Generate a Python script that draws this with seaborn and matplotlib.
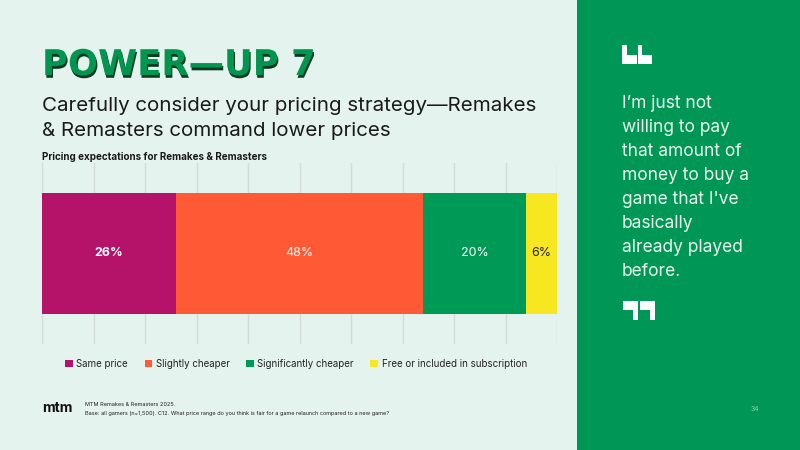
import numpy as np
import matplotlib.pyplot as plt
import matplotlib.patheffects as pe
from matplotlib.patches import Patch, Rectangle, Polygon
import seaborn as sns

# Dados do gráfico
categorias = ['Same price', 'Slightly cheaper', 'Significantly cheaper',
              'Free or included in subscription']
percentuais = [26, 48, 20, 6]
cores = ['#B5126A', '#FF5A35', '#009A57', '#F7E720']
cor_rotulo = ['white', 'white', 'white', '#222222']
peso_rotulo = ['bold', 'normal', 'normal', 'normal']
citacao = ["I\u2019m just not", "willing to pay", "that amount of",
           "money to buy a", "game that I've", "basically",
           "already played", "before."]

sns.set_theme(style='white')
plt.rcParams['font.family'] = ['Inter', 'DejaVu Sans']

W, H = 800, 450
fig = plt.figure(figsize=(8, 4.5), dpi=100)
fig.patch.set_facecolor('#E4F3EE')

def fx(px):
    return px / W

def fy(py):
    return 1 - py / H

# Painel verde da direita
fig.patches.append(Rectangle((fx(577), 0), fx(223), 1, transform=fig.transFigure,
                             facecolor='#009655', edgecolor='none', zorder=0))

# Barra empilhada (desenha do total acumulado para o menor)
ax = fig.add_axes([fx(42), fy(344), fx(557) - fx(42), fy(163) - fy(344)])
ax.set_facecolor('none')
acumulado = np.cumsum(percentuais)
for i in reversed(range(len(percentuais))):
    sns.barplot(x=[acumulado[i]], y=['Remakes & Remasters'], orient='h',
                color=cores[i], saturation=1, width=1.0, linewidth=0, ax=ax, zorder=3)

ax.set_xlim(0, 100)
ax.set_ylim(0.75, -0.75)
ax.set_xticks(np.arange(0, 101, 10))
ax.grid(axis='x', color='#D3DCD8', linewidth=1)
ax.grid(axis='y', visible=False)
ax.tick_params(left=False, bottom=False, labelleft=False, labelbottom=False)
ax.set_xlabel('')
ax.set_ylabel('')
for s in ax.spines.values():
    s.set_visible(False)

inicio = 0
for val, c, w in zip(percentuais, cor_rotulo, peso_rotulo):
    ax.text(inicio + val / 2, 0, f'{val}%', ha='center', va='center',
            color=c, fontweight=w, fontsize=9, zorder=5)
    inicio += val

# Títulos
fig.text(fx(42), fy(75), 'POWER\u2014UP 7', fontsize=25.5, fontweight='bold',
         family='DejaVu Sans', color='#00964F', va='baseline',
         path_effects=[pe.SimplePatchShadow(offset=(0.8, -2), shadow_rgbFace='#0B3A22', alpha=1),
                       pe.Normal()])
fig.text(fx(42), fy(111), 'Carefully consider your pricing strategy\u2014Remakes',
         fontsize=14.8, color='#1A1A1A', va='baseline')
fig.text(fx(42), fy(136), '& Remasters command lower prices',
         fontsize=14.8, color='#1A1A1A', va='baseline')
fig.text(fx(42), fy(160), 'Pricing expectations for Remakes & Remasters',
         fontsize=7.1, fontweight='bold', color='#1A1A1A', va='baseline')

# Legenda
alcas = [Patch(facecolor=c, edgecolor='none') for c in cores]
fig.legend(alcas, categorias, loc='center', bbox_to_anchor=(fx(296), fy(364)),
           ncol=4, frameon=False, fontsize=7, handlelength=0.8, handleheight=0.8,
           handletextpad=0.35, columnspacing=1.7, labelcolor='#222222')

# Rodapé
fig.text(fx(42), fy(412), 'mtm', fontsize=10, fontweight='bold', color='#111111',
         va='baseline')
fig.text(fx(85), fy(406), 'MTM Remakes & Remasters 2025.', fontsize=4.0,
         color='#222222', va='baseline')
fig.text(fx(85), fy(415), 'Base: all gamers (n=1,500). C12. What price range do you think '
         'is fair for a game relaunch compared to a new game?', fontsize=4.0,
         color='#222222', va='baseline')
fig.text(fx(751), fy(411), '34', fontsize=5, color='#8FD4B0', va='baseline')

# Aspas em bloco
def bloco(pontos):
    fig.patches.append(Polygon([(fx(x), fy(y)) for x, y in pontos], closed=True,
                               transform=fig.transFigure, facecolor='white',
                               edgecolor='none', zorder=2))

for x0 in (622, 637.5):
    bloco([(x0, 45), (x0 + 4.5, 45), (x0 + 4.5, 55), (x0 + 14.5, 55),
           (x0 + 14.5, 63.5), (x0, 63.5)])
for x0 in (623, 639.5):
    bloco([(x0, 301), (x0 + 15, 301), (x0 + 15, 319.5), (x0 + 10, 319.5),
           (x0 + 10, 310), (x0, 310)])

for k, linha in enumerate(citacao):
    fig.text(fx(622), fy(108 + 24 * k), linha, fontsize=12.5, color='#E8F6EE',
             va='baseline')

plt.savefig('out.png', dpi=100, facecolor=fig.get_facecolor())
